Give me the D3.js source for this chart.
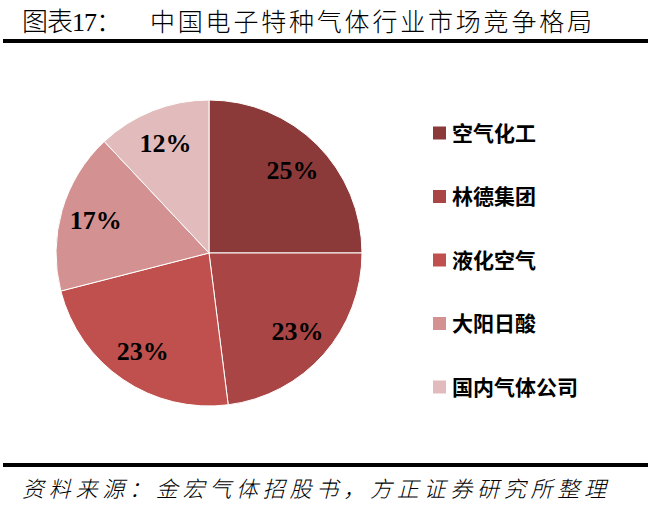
<!DOCTYPE html>
<html>
<head>
<meta charset="utf-8">
<script src="https://cdn.jsdelivr.net/npm/d3@7"></script>
<style>
  body { margin: 0; background: #fff; }
  svg { display: block; }
</style>
</head>
<body>
<svg id="chart" width="651" height="507"></svg>
<script>
// data
var companies = ["空气化工", "林德集团", "液化空气", "大阳日酸", "国内气体公司"];
var shares = [25, 23, 23, 17, 12];
var sliceColors = ["#8c3a39", "#a94645", "#c0504d", "#d39291", "#e2bcbc"];
var titleText = "图表17：";
var titleMain = "中国电子特种气体行业市场竞争格局";
var sourceText = "资料来源：金宏气体招股书，方正证券研究所整理";

var svg = d3.select("#chart"),
	width = +svg.attr("width"),
	height = +svg.attr("height");

var cjk = "'Noto Sans CJK SC', 'Noto Sans', sans-serif";

// title + rule
svg.append("text")
	.attr("x", 22).attr("y", 31)
	.attr("font-family", "'Liberation Serif', " + cjk)
	.attr("font-size", 26)
	.attr("font-weight", 300)
	.attr("textLength", 100)
	.text(titleText);
svg.append("text")
	.attr("x", 150).attr("y", 31)
	.attr("font-family", cjk)
	.attr("font-size", 25)
	.attr("font-weight", 300)
	.attr("textLength", 442)
	.text(titleMain);
svg.append("rect")
	.attr("x", 3).attr("y", 39).attr("width", 645).attr("height", 4)
	.attr("fill", "#000");

// pie
var cx = 209, cy = 253, radius = 153;
var g = svg.append("g").attr("transform", "translate(" + cx + "," + cy + ")");

var color = d3.scaleOrdinal().domain(companies).range(sliceColors);

var pie = d3.pie().sort(null).value(function(d) { return d.v; });
var arcs = pie(companies.map(function(c, i) { return {name: c, v: shares[i]}; }));

var arc = d3.arc().innerRadius(0).outerRadius(radius);
var labelArc = d3.arc().innerRadius(118).outerRadius(118);

g.selectAll("path")
	.data(arcs)
	.enter().append("path")
		.attr("d", arc)
		.attr("fill", function(d) { return color(d.data.name); })
		.attr("stroke", "#fff")
		.attr("stroke-width", 1);

g.selectAll("text.pct")
	.data(arcs)
	.enter().append("text")
		.attr("class", "pct")
		.attr("transform", function(d) { return "translate(" + labelArc.centroid(d) + ")"; })
		.attr("text-anchor", "middle")
		.attr("dy", "0.35em")
		.attr("font-family", "'Liberation Serif', 'DejaVu Serif', serif")
		.attr("font-weight", "bold")
		.attr("font-size", 26)
		.attr("fill", "#000")
		.text(function(d) { return d.data.v + "%"; });

// legend
var legendY = d3.scalePoint().domain(companies).range([133, 387]);
var lg = svg.append("g").selectAll("g")
	.data(companies)
	.enter().append("g")
		.attr("transform", function(d) { return "translate(433," + legendY(d) + ")"; });
lg.append("rect")
	.attr("x", 0).attr("y", -6.5).attr("width", 13).attr("height", 13)
	.attr("fill", function(d) { return color(d); });
lg.append("text")
	.attr("x", 19).attr("dy", "0.36em")
	.attr("font-family", cjk)
	.attr("font-weight", "bold")
	.attr("font-size", 21)
	.attr("fill", "#000")
	.text(function(d) { return d; });

// source rule + note
svg.append("rect")
	.attr("x", 3).attr("y", 463).attr("width", 645).attr("height", 4)
	.attr("fill", "#000");
svg.append("text")
	.attr("x", 22).attr("y", 497)
	.attr("font-family", cjk)
	.attr("font-style", "italic")
	.attr("font-weight", 300)
	.attr("font-size", 22)
	.attr("textLength", 584)
	.text(sourceText);
</script>
</body>
</html>
